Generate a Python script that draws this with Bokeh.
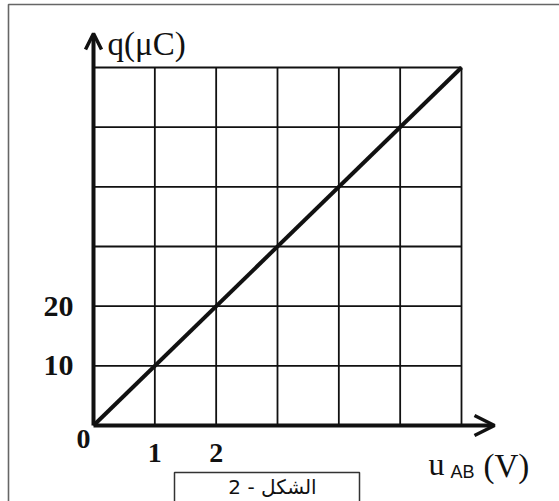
from bokeh.plotting import figure
from bokeh.models import Range1d, Arrow, OpenHead
from bokeh.core.properties import value
from bokeh.embed import file_html
from bokeh.resources import INLINE

# Charge q (µC) against voltage u_AB (V) for a capacitor
u_volts = [0, 6]
q_micro = [0, 60]

grid_u = [1, 2, 3, 4, 5, 6]
grid_q = [10, 20, 30, 40, 50, 60]

x_tick_vals = [1, 2]
x_tick_text = ["1", "2"]
y_tick_vals = [10, 20]
y_tick_text = ["10", "20"]

W, H = 559, 501
ORIGIN_PX, ORIGIN_PY = 93, 425      # pixel position of (0, 0)
PX_PER_V = 368 / 6.0
PX_PER_UC = 358 / 60.0


def dx(px):
    return (px - ORIGIN_PX) / PX_PER_V


def dy(py):
    return (ORIGIN_PY - py) / PX_PER_UC


p = figure(width=W, height=H, output_backend="svg", toolbar_location=None,
           x_range=Range1d(dx(0), dx(W)), y_range=Range1d(dy(H), dy(0)),
           x_axis_type=None, y_axis_type=None, min_border=0,
           background_fill_color="white", border_fill_color="white")
p.outline_line_color = None
p.grid.visible = False

INK = "#111111"
SERIF = value("Liberation Serif")

# page frame (top and left edges)
p.line([dx(8), dx(8), dx(W + 5)], [dy(H + 5), dy(4), dy(4)],
       line_color="#666666", line_width=1.6)

# grid
p.segment(x0=grid_u, y0=[0] * len(grid_u), x1=grid_u, y1=[60] * len(grid_u),
          line_color=INK, line_width=1.8)
p.segment(x0=[0] * len(grid_q), y0=grid_q, x1=[6] * len(grid_q), y1=grid_q,
          line_color=INK, line_width=1.8)

# axes with arrow heads
p.add_layout(Arrow(end=OpenHead(size=20, line_width=3.5, line_color=INK),
                   x_start=0, y_start=0, x_end=dx(494), y_end=0,
                   line_width=4, line_color=INK))
p.add_layout(Arrow(end=OpenHead(size=16, line_width=3.5, line_color=INK),
                   x_start=0, y_start=0, x_end=0, y_end=dy(33),
                   line_width=4, line_color=INK))

# q = C * u
p.line(u_volts, q_micro, line_color=INK, line_width=4)

# tick labels
p.text(x=[0] * len(y_tick_vals), y=y_tick_vals, text=y_tick_text,
       x_offset=-20, text_align="right", text_baseline="middle",
       text_font=SERIF, text_font_style="bold", text_font_size="30px",
       text_color=INK)
p.text(x=x_tick_vals, y=[0] * len(x_tick_vals), text=x_tick_text,
       y_offset=27, text_align="center", text_baseline="middle",
       text_font=SERIF, text_font_style="bold", text_font_size="28px",
       text_color=INK)
p.text(x=[0], y=[0], text=["0"], x_offset=-10, y_offset=13,
       text_align="center", text_baseline="middle",
       text_font=SERIF, text_font_style="bold", text_font_size="28px",
       text_color=INK)

# axis titles
p.text(x=[0], y=[60], text=["q(μC)"], x_offset=14, y_offset=-24,
       text_align="left", text_baseline="middle",
       text_font=SERIF, text_font_size="33px", text_color=INK)
p.text(x=[6], y=[0], text=["u"], x_offset=-33, y_offset=38,
       text_align="left", text_baseline="alphabetic",
       text_font=SERIF, text_font_size="32px", text_color=INK)
p.text(x=[6], y=[0], text=["AB"], x_offset=-11, y_offset=46,
       text_align="left", text_baseline="alphabetic",
       text_font=value("Liberation Sans"), text_font_size="18px", text_color=INK)
p.text(x=[6], y=[0], text=["(V)"], x_offset=22, y_offset=40,
       text_align="left", text_baseline="alphabetic",
       text_font=SERIF, text_font_size="33px", text_color=INK)

# caption box
p.line([dx(174), dx(174), dx(359), dx(359)], [dy(H + 5), dy(472), dy(472), dy(H + 5)],
       line_color="#333333", line_width=1.5)
p.text(x=[dx(272)], y=[dy(486)], text=["الشكل - 2"],
       text_align="center", text_baseline="middle",
       text_font=value("DejaVu Sans"), text_font_size="20px", text_color=INK)

open("out.html", "w").write(file_html(p, INLINE))
